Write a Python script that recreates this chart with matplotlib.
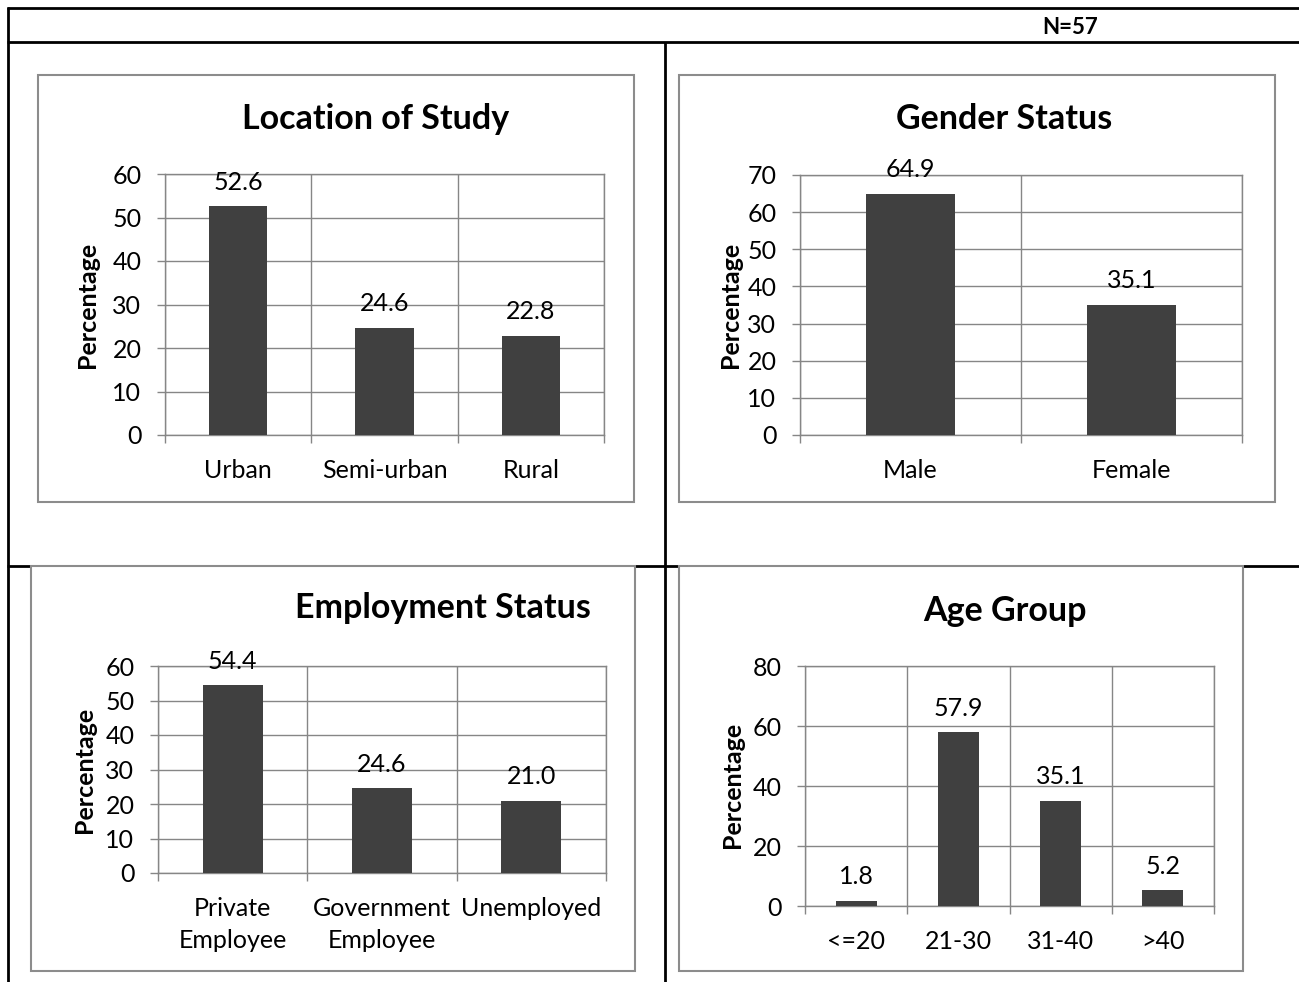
import matplotlib.pyplot as plt
from matplotlib.lines import Line2D
from matplotlib.patches import Rectangle

plt.rcParams['font.family'] = ['Lato', 'DejaVu Sans']

W, H = 1299, 982

location = ["Urban", "Semi-urban", "Rural"]
location_pct = [52.6, 24.6, 22.8]

gender = ["Male", "Female"]
gender_pct = [64.9, 35.1]

employment = ["Private\nEmployee", "Government\nEmployee", "Unemployed"]
employment_pct = [54.4, 24.6, 21.0]

age = ["<=20", "21-30", "31-40", ">40"]
age_pct = [1.8, 57.9, 35.1, 5.2]

bar_col = "#404040"
grid_col = "#868686"
box_col = "#8c8c8c"
fs = 18

fig = plt.figure(figsize=(W / 100, H / 100), dpi=100)


def fx(x):
    return x / W


def fy(y):
    return 1 - y / H


def hline(y, x0, x1):
    fig.lines.append(Line2D([fx(x0), fx(x1)], [fy(y), fy(y)], transform=fig.transFigure,
                            color="black", lw=2.0, zorder=-2, solid_capstyle="butt"))


def vline(x, y0, y1):
    fig.lines.append(Line2D([fx(x), fx(x)], [fy(y0), fy(y1)], transform=fig.transFigure,
                            color="black", lw=2.0, zorder=-2, solid_capstyle="butt"))


# table frame
hline(8, 7, W)
hline(42, 7, W)
hline(566, 7, W)
vline(8, 7, H)
vline(665, 42, H)
fig.text(fx(1070), fy(27), "N=57", ha="center", va="center", fontsize=16, fontweight="bold")


def panel(box, plot, title, title_xy, ylab_xy, cats, vals, ymax, ystep):
    x0, y0, x1, y1 = box
    fig.patches.append(Rectangle((fx(x0), fy(y1)), (x1 - x0) / W, (y1 - y0) / H,
                                 transform=fig.transFigure, facecolor="white",
                                 edgecolor=box_col, lw=1.5, zorder=-1))
    px0, py0, px1, py1 = plot
    ax = fig.add_axes([fx(px0), fy(py1), (px1 - px0) / W, (py1 - py0) / H])
    ax.set_facecolor("none")
    n = len(cats)
    xs = list(range(n))
    ax.bar(xs, vals, width=0.4, color=bar_col, zorder=3)
    for xi, v in zip(xs, vals):
        ax.annotate(f"{v:.1f}", (xi, v), xytext=(0, 9), textcoords="offset points",
                    ha="center", va="bottom", fontsize=fs)
    ax.set_xlim(-0.5, n - 0.5)
    ax.set_ylim(0, ymax)
    ax.set_yticks(range(0, ymax + 1, ystep))
    ax.set_xticks(xs)
    ax.set_xticklabels(cats, linespacing=1.5)
    ax.set_xticks([i - 0.5 for i in range(n + 1)], minor=True)
    ax.tick_params(axis="x", which="major", length=0, pad=17, labelsize=fs)
    ax.tick_params(axis="x", which="minor", length=6, width=1, color=grid_col, direction="out")
    ax.tick_params(axis="y", length=6, width=1, color=grid_col, pad=11, labelsize=fs)
    ax.grid(axis="y", which="major", color=grid_col, lw=1)
    ax.grid(axis="x", which="minor", color=grid_col, lw=1)
    ax.set_axisbelow(True)
    for s in ax.spines.values():
        s.set_color(grid_col)
        s.set_linewidth(1)
    fig.text(fx(title_xy[0]), fy(title_xy[1]), title, ha="center", va="center",
             fontsize=24.5, fontweight="bold")
    fig.text(fx(ylab_xy[0]), fy(ylab_xy[1]), "Percentage", ha="center", va="center",
             rotation=90, fontsize=18, fontweight="bold")
    return ax


panel((38, 75, 634, 502), (165, 174, 604, 435), "Location of Study", (376, 119), (88, 305),
      location, location_pct, 60, 10)
panel((679, 75, 1275, 502), (800, 175, 1242, 435), "Gender Status", (1004, 119), (730, 305),
      gender, gender_pct, 70, 10)
panel((31, 566, 635, 971), (158, 666, 606, 873), "Employment Status", (443, 608), (84, 770),
      employment, employment_pct, 60, 10)
panel((679, 566, 1243, 971), (805, 666, 1214, 906), "Age Group", (1005, 611), (732, 785),
      age, age_pct, 80, 20)

fig.savefig("out.png", dpi=100)
